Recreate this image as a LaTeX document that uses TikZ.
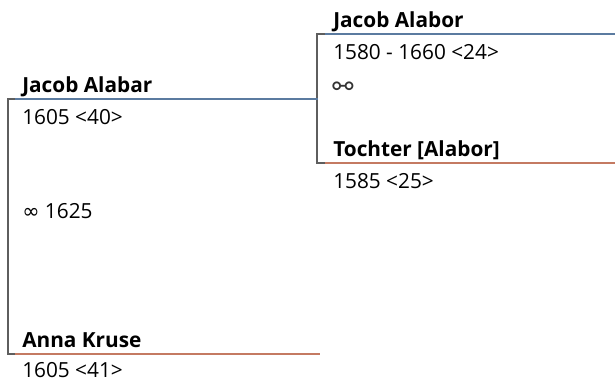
\documentclass[tikz,border=0pt]{standalone}
\usepackage{fontspec}
\setmainfont{Open Sans}
\newfontfamily\symfont{DejaVu Sans}
\usepackage{tikz}
\usetikzlibrary{positioning}
\definecolor{manline}{HTML}{5B7BA0}
\definecolor{wifeline}{HTML}{C47A62}
\definecolor{linkline}{HTML}{5E5E5E}

\begin{document}
\begin{tikzpicture}[x=0.75pt,y=-0.75pt,
    pname/.style={anchor=base west,inner sep=0pt,font=\bfseries\fontsize{15.6}{18}\selectfont},
    pinfo/.style={anchor=base west,inner sep=0pt,font=\fontsize{15.6}{18}\selectfont},
    link/.style={draw=linkline,line width=1.5pt},
    man/.style={draw=manline,line width=1.5pt},
    wife/.style={draw=wifeline,line width=1.5pt}]
\useasboundingbox (0,0) rectangle (615,380);
% child and spouse
\node[pname] (alabar) at (22,92) {Jacob Alabar};
\node[pinfo] (alabarinfo) at (22,124) {1605 <40>};
\node[pinfo] (marriage) at (22,218) {{\symfont ∞} 1625};
\node[pname] (kruse) at (22,347) {Anna Kruse};
\node[pinfo] (kruseinfo) at (22,377) {1605 <41>};
% parents
\node[pname] (alabor) at (333,27) {Jacob Alabor};
\node[pinfo] (alaborinfo) at (333,59) {1580 - 1660 <24>};
\node[pinfo,text=black!80] (partner) at (332,95) {{\symfont\fontsize{19}{19}\selectfont ⚯}};
\node[pname] (tochter) at (333,156) {Tochter [Alabor]};
\node[pinfo] (tochterinfo) at (333,188) {1585 <25>};
% line ends
\coordinate (lefttop) at (8,99);
\coordinate (leftbot) at (8,354);
\coordinate (alabarstart) at (15,99);
\coordinate (alabarend) at (318,99);
\coordinate (krusestart) at (15,354);
\coordinate (kruseend) at (320,354);
\coordinate (righttop) at (317,34);
\coordinate (rightbot) at (317,163);
\coordinate (alaborstart) at (325,34);
\coordinate (alaborend) at (615,34);
\coordinate (tochterstart) at (325,163);
\coordinate (tochterend) at (615,163);
% connectors
\draw[link] (alabarstart) -- (lefttop) -- (leftbot) -- (krusestart);
\draw[link] (alaborstart) -- (righttop) -- (rightbot) -- (tochterstart);
\draw[man] (alabarstart) -- (alabarend);
\draw[wife] (krusestart) -- (kruseend);
\draw[man] (alaborstart) -- (alaborend);
\draw[wife] (tochterstart) -- (tochterend);
\end{tikzpicture}
\end{document}
